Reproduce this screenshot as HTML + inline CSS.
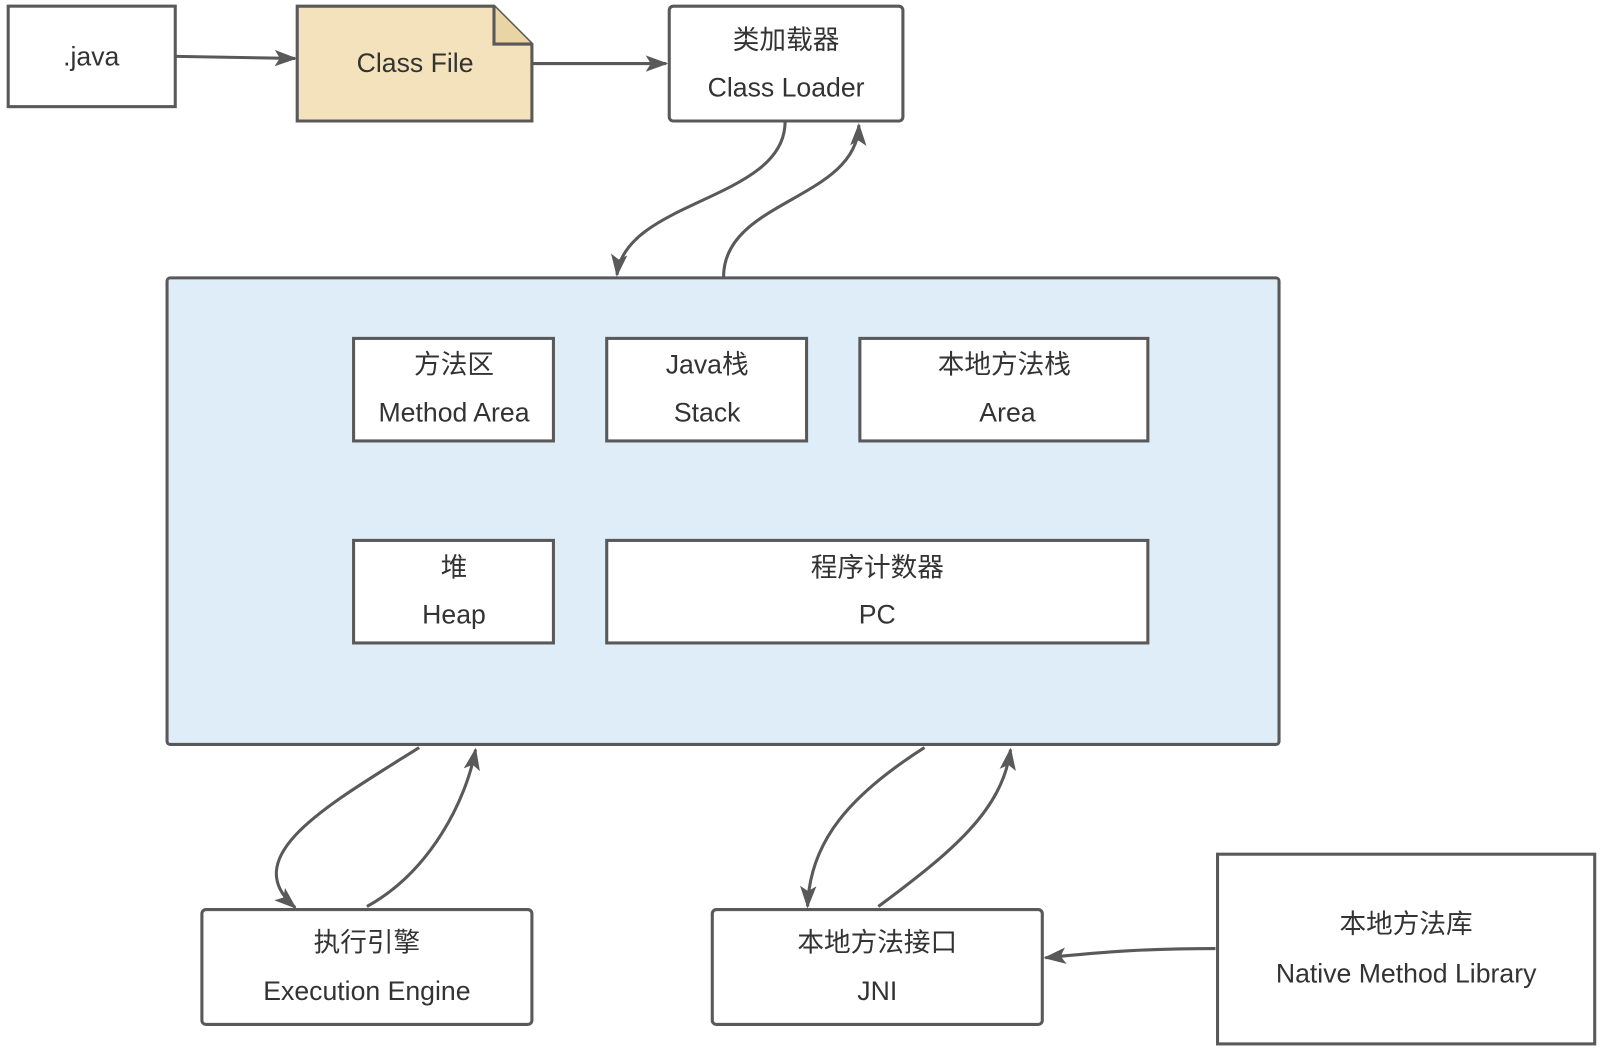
<!DOCTYPE html>
<html><head><meta charset="utf-8"><style>
html,body{margin:0;padding:0;background:#fff;}
svg{display:block;}
text{font-family:"Liberation Sans","Noto Sans CJK SC",sans-serif;font-size:26px;fill:#333;text-anchor:middle;}
</style></head><body>
<svg width="1607" height="1048" viewBox="0 0 1568 1022" preserveAspectRatio="none" xmlns="http://www.w3.org/2000/svg">
<defs>
<marker id="b" markerWidth="22" markerHeight="16" refX="20" refY="8" orient="auto" markerUnits="userSpaceOnUse">
<path d="M0,0 L22,8 L0,16 L5,8 Z" fill="#595959"/>
</marker>
</defs>
<g stroke="#595959" stroke-width="3" fill="none">
<rect x="8" y="6" width="163" height="98" fill="#fff"/>
<path d="M290,6 L482,6 L519,43 L519,118 L290,118 Z" fill="#f3e2bb"/>
<path d="M482,6 L482,43 L519,43" fill="#e8d4a4"/>
<rect x="653" y="6" width="228" height="112" rx="4" fill="#fff"/>
<rect x="163" y="271" width="1085" height="455" rx="3" fill="#dfedf9"/>
<rect x="345" y="330" width="195" height="100" fill="#fff"/>
<rect x="592" y="330" width="195" height="100" fill="#fff"/>
<rect x="839" y="330" width="281" height="100" fill="#fff"/>
<rect x="345" y="527" width="195" height="100" fill="#fff"/>
<rect x="592" y="527" width="528" height="100" fill="#fff"/>
<rect x="197" y="887" width="322" height="112" rx="4" fill="#fff"/>
<rect x="695" y="887" width="322" height="112" rx="4" fill="#fff"/>
<rect x="1188" y="833" width="368" height="185" fill="#fff"/>

<path d="M172,55 L288,57" marker-end="url(#b)"/>
<path d="M520,62 L650,62" marker-end="url(#b)"/>
<path d="M766,119 C766,195 610,195 602,268" marker-end="url(#b)"/>
<path d="M706,270 C706,195 836,195 838,122" marker-end="url(#b)"/>
<path d="M409,729 C320,785 230,835 288,885" marker-end="url(#b)"/>
<path d="M358,884 C420,850 455,780 464,731" marker-end="url(#b)"/>
<path d="M902,729 C830,775 790,820 788,884" marker-end="url(#b)"/>
<path d="M857,884 C930,830 978,790 986,731" marker-end="url(#b)"/>
<path d="M1186,925 C1120,925 1080,928 1020,934" marker-end="url(#b)"/>
</g>
<text x="89" y="64">.java</text>
<text x="405" y="70">Class File</text>
<text x="767" y="48">类加载器</text>
<text x="767" y="94">Class Loader</text>
<text x="443" y="364">方法区</text>
<text x="443" y="411">Method Area</text>
<text x="690" y="364">Java栈</text>
<text x="690" y="411">Stack</text>
<text x="980" y="364">本地方法栈</text>
<text x="983" y="411">Area</text>
<text x="443" y="562">堆</text>
<text x="443" y="608">Heap</text>
<text x="856" y="562">程序计数器</text>
<text x="856" y="608">PC</text>
<text x="358" y="928">执行引擎</text>
<text x="358" y="975">Execution Engine</text>
<text x="856" y="928">本地方法接口</text>
<text x="856" y="975">JNI</text>
<text x="1372" y="910">本地方法库</text>
<text x="1372" y="958">Native Method Library</text>
</svg>
</body></html>
